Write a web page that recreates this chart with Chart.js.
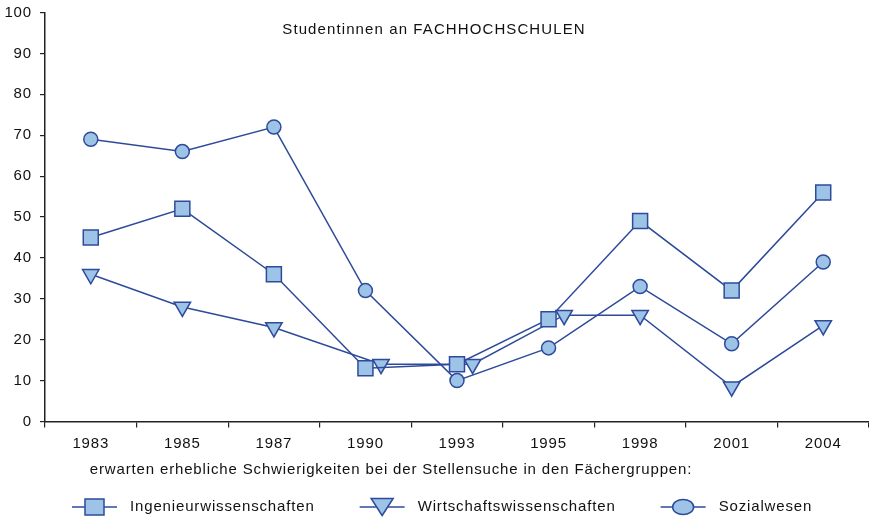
<!DOCTYPE html>
<html>
<head>
<meta charset="utf-8">
<script src="https://cdn.jsdelivr.net/npm/chart.js@4/dist/chart.umd.min.js"></script>
<style>
  html, body { margin: 0; padding: 0; background: #fff; overflow: hidden; }
</style>
</head>
<body>
<canvas id="chart" width="869" height="517"></canvas>
<script>
// data
const years = ["1983", "1985", "1987", "1990", "1993", "1995", "1998", "2001", "2004"];
const ingenieur = [45, 52, 36, 13, 14, 25, 49, 32, 56];
const wirtschaft = [36, 28, 23, 14, 14, 26, 26, 8.5, 23.5];
const sozial = [69, 66, 72, 32, 10, 18, 33, 19, 39];
// triangles are drawn a little right of the category centre in some years
const wirtschaftShift = [0, 0, 0, 0.17, 0.17, 0.17, 0, 0, 0];
const seriesNames = ["Ingenieurwissenschaften", "Wirtschaftswissenschaften", "Sozialwesen"];
const yMin = 0, yMax = 100, yStep = 10;

const chartTitle = "Studentinnen an FACHHOCHSCHULEN";
const subTitle = "erwarten erhebliche Schwierigkeiten bei der Stellensuche in den Fächergruppen:";

const FONT = '"Liberation Sans", Arial, sans-serif';
const LINE = "#2e4b9b";
const FILL = "#9dc3e6";
const AXIS = "#222";
const SPACING = "0.85px";

function legendMarker(ctx, shape, cx, cy) {
  ctx.beginPath();
  if (shape === "rect") {
    ctx.rect(cx - 9.5, cy - 8, 19, 16);
  } else if (shape === "tri") {
    ctx.moveTo(cx - 11, cy - 8.5);
    ctx.lineTo(cx + 11, cy - 8.5);
    ctx.lineTo(cx, cy + 8.5);
    ctx.closePath();
  } else {
    ctx.ellipse(cx, cy, 10.5, 7.5, 0, 0, Math.PI * 2);
  }
  ctx.fill();
  ctx.stroke();
}

const textPlugin = {
  id: "texts",
  beforeUpdate(chart) { chart.ctx.letterSpacing = SPACING; },
  beforeDraw(chart) { chart.ctx.letterSpacing = SPACING; },
  afterDraw(chart) {
    const ctx = chart.ctx;
    ctx.save();
    ctx.fillStyle = "#111";
    ctx.textBaseline = "middle";
    ctx.textAlign = "center";
    ctx.font = "15px " + FONT;
    ctx.letterSpacing = "1.1px";
    ctx.fillText(chartTitle, 434, 30);
    ctx.letterSpacing = SPACING;
    ctx.fillText(subTitle, 391, 470);

    // legend: line + marker, then label
    ctx.textAlign = "left";
    let x = 72;
    const y = 507;
    chart.data.datasets.forEach((ds) => {
      ctx.strokeStyle = LINE;
      ctx.lineWidth = 1.5;
      ctx.beginPath();
      ctx.moveTo(x, y);
      ctx.lineTo(x + 45, y);
      ctx.stroke();
      ctx.fillStyle = FILL;
      legendMarker(ctx, ds.legendShape, x + 22.5, y);
      ctx.fillStyle = "#111";
      ctx.fillText(ds.label, x + 58, y);
      x += 58 + ctx.measureText(ds.label).width + 45;
    });
    ctx.restore();
  }
};

const common = {
  borderColor: LINE,
  borderWidth: 1.5,
  backgroundColor: FILL,
  pointBackgroundColor: FILL,
  pointBorderColor: LINE,
  pointBorderWidth: 1.5,
  tension: 0
};

new Chart(document.getElementById("chart"), {
  type: "line",
  data: {
    labels: years,
    datasets: [
      Object.assign({}, common, {
        label: seriesNames[0], legendShape: "rect", data: ingenieur,
        pointStyle: "rect", pointRadius: 10.6, pointHoverRadius: 10.6
      }),
      Object.assign({}, common, {
        label: seriesNames[1], legendShape: "tri", xAxisID: "x2",
        data: wirtschaft.map((v, i) => ({ x: i + wirtschaftShift[i], y: v })),
        pointStyle: "triangle", pointRotation: 180, pointRadius: 9.5, pointHoverRadius: 9.5
      }),
      Object.assign({}, common, {
        label: seriesNames[2], legendShape: "circle", data: sozial,
        pointStyle: "circle", pointRadius: 7, pointHoverRadius: 7
      })
    ]
  },
  options: {
    responsive: false,
    animation: false,
    devicePixelRatio: 1,
    events: [],
    layout: { autoPadding: false, padding: { top: 12.5, right: 0, bottom: 0, left: 0 } },
    plugins: {
      legend: { display: false },
      title: { display: false },
      tooltip: { enabled: false }
    },
    scales: {
      x: {
        type: "category",
        offset: true,
        grid: { offset: true, drawOnChartArea: false, tickLength: 6, color: AXIS, lineWidth: 1.2 },
        border: { color: AXIS, width: 1.5 },
        ticks: { font: { size: 15, family: FONT }, color: "#111", padding: 7, maxRotation: 0, autoSkip: false },
        afterFit(scale) { scale.height = 95.5; scale.paddingLeft = 0; scale.paddingRight = 0; }
      },
      x2: { type: "linear", display: false, min: -0.5, max: 8.5 },
      y: {
        min: yMin,
        max: yMax,
        grid: { drawOnChartArea: false, tickLength: 5, color: AXIS, lineWidth: 1.2 },
        border: { color: AXIS, width: 1.5 },
        ticks: { stepSize: yStep, font: { size: 15, family: FONT }, color: "#111", padding: 8 },
        afterFit(scale) { scale.width = 45; scale.paddingTop = 0; scale.paddingBottom = 0; }
      }
    }
  },
  plugins: [textPlugin]
});
</script>
</body>
</html>
